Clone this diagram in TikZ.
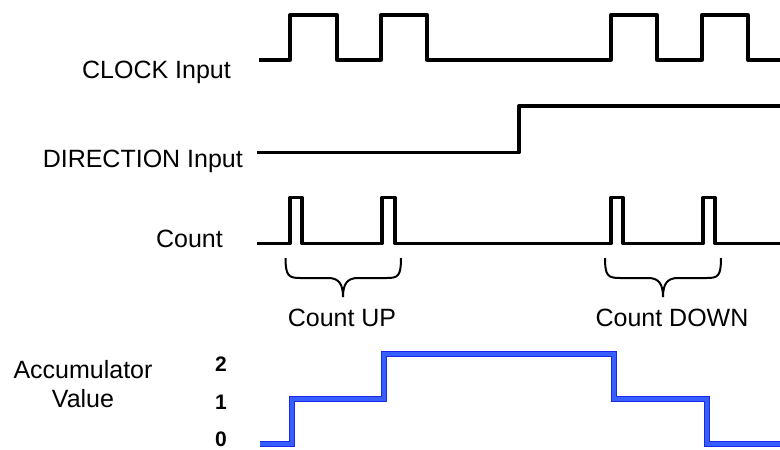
\documentclass[tikz,border=0pt]{standalone}
\usepackage{fontspec}
\setmainfont{Liberation Sans}
\definecolor{accblue}{RGB}{55,95,255}
\definecolor{accedge}{RGB}{25,40,235}
\tikzset{
  wave/.style={line width=3.3pt, line join=round, line cap=butt, black},
  bracel/.style={line width=2pt, black},
  acc/.style={line width=5.5pt, accedge, line join=miter},
  accin/.style={line width=3.6pt, accblue, line join=miter},
  lbl/.style={font=\fontsize{25}{30}\selectfont, inner sep=0pt},
  num/.style={font=\fontsize{21}{25}\selectfont\bfseries, inner sep=0pt},
}
\begin{document}
\begin{tikzpicture}[x=1pt,y=-1pt]
\useasboundingbox (0,0) rectangle (780,450);
% labels
\node[lbl, anchor=base east] (clk) at (231,78) {CLOCK Input};
\node[lbl, anchor=base east] (dir) at (243,167) {DIRECTION Input};
\node[lbl, anchor=base east] (cnt) at (223,247) {Count};
\node[lbl, anchor=base] (up) at (342,326) {Count UP};
\node[lbl, anchor=base] (down) at (672,326) {Count DOWN};
\node[lbl, anchor=base] (acc1) at (83,378) {Accumulator};
\node[lbl, anchor=base] (acc2) at (83,407) {Value};
\node[num, anchor=base] (n2) at (221,371) {2};
\node[num, anchor=base] (n1) at (221,409) {1};
\node[num, anchor=base] (n0) at (221,446) {0};
% clock
\draw[wave] (259,60) -- (290,60) -- (290,15) -- (337,15) -- (337,60) -- (381,60) -- (381,15) -- (427,15) -- (427,60) -- (611,60) -- (611,15) -- (657,15) -- (657,60) -- (702,60) -- (702,15) -- (748,15) -- (748,60) -- (780,60);
% direction
\draw[wave] (257,152.5) -- (519,152.5) -- (519,106) -- (780,106);
% count
\draw[wave] (257,243.5) -- (290,243.5) -- (290,197.5) -- (302,197.5) -- (302,243.5) -- (382,243.5) -- (382,197.5) -- (395,197.5) -- (395,243.5) -- (611,243.5) -- (611,197.5) -- (623,197.5) -- (623,243.5) -- (703,243.5) -- (703,197.5) -- (715,197.5) -- (715,243.5) -- (780,243.5);
% braces
\draw[bracel] (285.5,258) .. controls (285.5,276) and (289,278) .. (300,278) -- (328,278) .. controls (338,278) and (343,283) .. (343,297) .. controls (343,283) and (348,278) .. (358,278) -- (387,278) .. controls (398,278) and (401,276) .. (401,258);
\draw[bracel] (605,258) .. controls (605,276) and (608,278) .. (620,278) -- (648,278) .. controls (658,278) and (663,283) .. (663,297) .. controls (663,283) and (668,278) .. (678,278) -- (707,278) .. controls (718,278) and (721,276) .. (721,258);
% accumulator
\foreach \s in {acc,accin}{
\draw[\s] (260,444) -- (292,444) -- (292,399) -- (384,399) -- (384,354) -- (614,354) -- (614,399) -- (707,399) -- (707,444) -- (780,444);
}
\end{tikzpicture}
\end{document}
